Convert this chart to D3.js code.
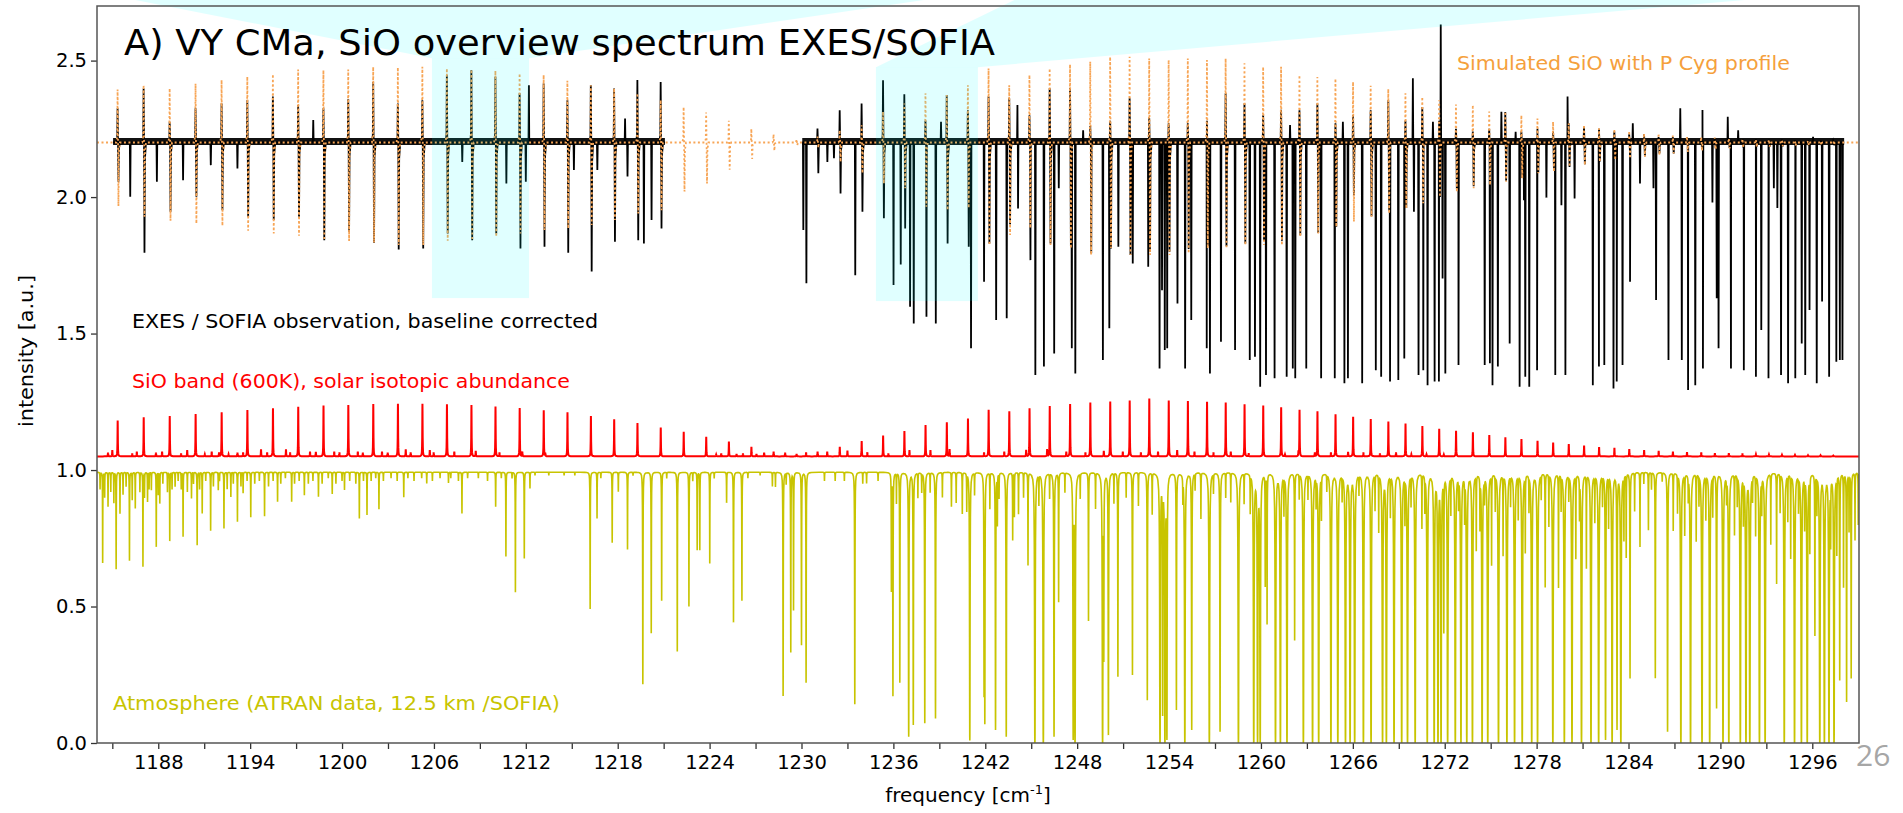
<!DOCTYPE html>
<html><head><meta charset="utf-8">
<script src="https://cdn.jsdelivr.net/npm/d3@7"></script>
<style>
html,body{margin:0;padding:0;background:#fff;}
svg{display:block;font-family:"DejaVu Sans",Verdana,sans-serif;}
</style></head><body>
<svg id="chart" width="1903" height="813"></svg>
<script>
// ---- SiO band lines: [frequency cm-1, model peak intensity] ----
const sioLines = [[1185.35,1.181],[1187.05,1.193],[1188.75,1.198],[1190.44,1.205],[1192.14,1.212],[1193.82,1.220],[1195.49,1.226],[1197.14,1.232],[1198.79,1.236],[1200.41,1.238],[1202.04,1.242],[1203.65,1.243],[1205.25,1.243],[1206.85,1.241],[1208.45,1.238],[1210.02,1.233],[1211.60,1.227],[1213.17,1.219],[1214.72,1.212],[1216.25,1.198],[1217.77,1.186],[1219.29,1.172],[1220.81,1.156],[1222.31,1.140],[1223.78,1.122],[1225.26,1.104],[1226.73,1.085],[1228.18,1.067],[1229.68,1.059],[1231.05,1.067],[1232.50,1.085],[1233.93,1.106],[1235.33,1.126],[1236.72,1.143],[1238.10,1.165],[1239.49,1.175],[1240.87,1.189],[1242.22,1.221],[1243.57,1.215],[1244.89,1.226],[1246.21,1.234],[1247.54,1.242],[1248.86,1.247],[1250.16,1.251],[1251.43,1.255],[1252.71,1.262],[1253.98,1.255],[1255.23,1.253],[1256.48,1.250],[1257.70,1.247],[1258.93,1.241],[1260.15,1.236],[1261.32,1.230],[1262.52,1.220],[1263.69,1.215],[1264.87,1.204],[1266.02,1.195],[1267.17,1.187],[1268.32,1.178],[1269.44,1.170],[1270.54,1.161],[1271.64,1.151],[1272.74,1.144],[1273.84,1.138],[1274.91,1.128],[1275.96,1.120],[1277.01,1.114],[1278.06,1.107],[1279.08,1.101],[1280.10,1.095],[1281.10,1.090],[1282.08,1.084],[1283.08,1.081],[1284.05,1.077],[1285.02,1.073],[1285.97,1.070],[1286.90,1.067],[1287.82,1.066],[1288.75,1.065],[1289.64,1.062],[1290.55,1.062],[1291.44,1.061],[1292.32,1.058],[1293.17,1.057],[1294.02,1.056],[1294.87,1.055],[1295.72,1.054],[1296.54,1.054],[1297.37,1.053]];

// weaker isotopologue / hot-band lines of the model band
const sioMinor = [[1184.72,1.064],[1185.00,1.073],[1186.30,1.061],[1186.60,1.067],[1187.85,1.064],[1188.25,1.067],[1189.49,1.061],[1189.89,1.073],[1191.04,1.058],[1191.49,1.067],[1191.97,1.064],[1192.59,1.058],[1193.17,1.064],[1193.54,1.064],[1194.71,1.076],[1195.11,1.064],[1196.34,1.076],[1196.61,1.064],[1197.91,1.067],[1198.29,1.066],[1199.49,1.067],[1199.83,1.064],[1201.03,1.067],[1201.36,1.064],[1202.61,1.067],[1202.98,1.064],[1204.16,1.076],[1204.48,1.064],[1205.73,1.073],[1205.98,1.064],[1207.33,1.067],[1208.73,1.070],[1210.28,1.064],[1211.77,1.067],[1213.27,1.061],[1224.43,1.057],[1224.76,1.061],[1225.76,1.059],[1226.18,1.061],[1227.06,1.059],[1227.56,1.064],[1228.93,1.064],[1230.30,1.065],[1231.68,1.067],[1233.00,1.071],[1234.30,1.065],[1235.67,1.061],[1237.05,1.073],[1238.42,1.073],[1239.67,1.076],[1241.92,1.064],[1243.24,1.067],[1244.67,1.073],[1246.04,1.076],[1247.29,1.067],[1248.54,1.064],[1249.74,1.070],[1250.98,1.067],[1252.16,1.064],[1253.28,1.067],[1254.53,1.073],[1255.66,1.067],[1256.90,1.064],[1258.03,1.067],[1259.20,1.061],[1261.57,1.057],[1262.45,1.067],[1263.52,1.064],[1264.57,1.064],[1265.69,1.066],[1266.69,1.064],[1267.77,1.061],[1268.82,1.064],[1269.82,1.058],[1270.81,1.057],[1271.94,1.057]];

// ---- simulated SiO with P Cyg profile: [frequency, emission max, absorption min] ----
const simProfile = [[1185.35,2.394,1.967],[1187.05,2.410,1.928],[1188.75,2.398,1.913],[1190.44,2.416,1.903],[1192.14,2.429,1.895],[1193.82,2.441,1.877],[1195.49,2.450,1.867],[1197.14,2.467,1.858],[1198.79,2.465,1.842],[1200.41,2.467,1.839],[1202.04,2.477,1.833],[1203.65,2.475,1.824],[1205.25,2.477,1.824],[1206.85,2.471,1.840],[1208.45,2.467,1.842],[1210.02,2.463,1.855],[1211.60,2.453,1.867],[1213.17,2.447,1.879],[1214.72,2.426,1.885],[1216.25,2.410,1.898],[1217.77,2.398,1.916],[1219.29,2.380,1.940],[1220.81,2.355,1.952],[1222.31,2.330,2.020],[1223.78,2.310,2.050],[1225.26,2.280,2.100],[1226.73,2.250,2.140],[1228.18,2.230,2.170],[1229.68,2.212,2.190],[1231.05,2.222,2.180],[1232.50,2.245,2.129],[1233.93,2.263,2.087],[1235.33,2.313,2.050],[1236.72,2.343,2.032],[1238.10,2.380,1.965],[1239.49,2.374,1.952],[1240.87,2.410,1.960],[1242.22,2.471,1.824],[1243.57,2.410,1.861],[1244.89,2.447,1.886],[1246.21,2.471,1.824],[1247.54,2.486,1.812],[1248.86,2.496,1.788],[1250.16,2.514,1.813],[1251.43,2.514,1.788],[1252.71,2.508,1.788],[1253.98,2.502,1.788],[1255.23,2.508,1.794],[1256.48,2.502,1.812],[1257.70,2.508,1.812],[1258.93,2.490,1.824],[1260.15,2.477,1.824],[1261.32,2.477,1.824],[1262.52,2.447,1.855],[1263.69,2.440,1.867],[1264.87,2.434,1.891],[1266.02,2.422,1.910],[1267.17,2.408,1.928],[1268.32,2.396,1.940],[1269.44,2.380,1.958],[1270.54,2.367,1.977],[1271.64,2.355,2.001],[1272.74,2.339,2.019],[1273.84,2.337,2.032],[1274.91,2.313,2.044],[1275.96,2.313,2.056],[1277.01,2.300,2.068],[1278.06,2.288,2.087],[1279.08,2.276,2.093],[1280.10,2.270,2.111],[1281.10,2.264,2.117],[1282.08,2.252,2.129],[1283.08,2.249,2.136],[1284.05,2.242,2.142],[1285.02,2.233,2.148],[1285.97,2.233,2.154],[1286.90,2.225,2.160],[1287.82,2.222,2.165],[1288.75,2.220,2.170],[1289.64,2.218,2.175],[1290.55,2.215,2.178],[1291.44,2.213,2.180],[1292.32,2.210,2.183],[1293.17,2.210,2.185],[1294.02,2.208,2.187],[1294.87,2.207,2.188],[1295.72,2.206,2.190],[1296.54,2.205,2.190],[1297.37,2.205,2.191]];

// ---- EXES/SOFIA observation ----
const obsSegments = [[1185.05,1221.08],[1230.05,1298.08]];
// SiO features seen in the data: [frequency, emission max, absorption min]
const obsProfile = [[1185.35,2.325,2.056],[1187.05,2.398,1.796],[1188.75,2.276,1.946],[1190.44,2.325,2.001],[1192.14,2.343,1.952],[1193.82,2.355,1.928],[1195.49,2.368,1.916],[1197.14,2.337,1.928],[1198.79,2.325,1.842],[1200.41,2.358,1.873],[1202.04,2.422,1.833],[1203.65,2.343,1.808],[1205.25,2.355,1.812],[1206.85,2.447,1.867],[1208.45,2.465,1.842],[1210.02,2.441,1.867],[1211.60,2.380,1.812],[1213.17,2.416,1.818],[1214.72,2.355,1.796],[1216.25,2.410,1.727],[1217.77,2.398,1.836],[1219.29,2.429,1.842],[1220.81,2.422,1.885],
[1231.05,2.251,2.087],[1232.50,2.318,2.013],[1233.93,2.343,1.946],[1235.33,2.428,1.922],[1236.72,2.377,1.885],[1238.10,2.280,1.790],[1239.49,2.374,1.830],[1240.87,2.318,1.818],[1242.22,2.368,1.830],[1243.57,2.362,1.900],[1244.89,2.300,1.880],[1246.21,2.399,1.830],[1247.54,2.400,1.820],[1248.86,2.260,1.860],[1250.16,2.280,1.812],[1251.43,2.362,1.788],[1252.71,2.290,1.800],[1253.98,2.270,1.800],[1255.23,2.270,1.810],[1256.48,2.280,1.820],[1257.70,2.380,1.820],[1258.93,2.343,1.830],[1260.15,2.300,1.840],[1261.32,2.320,1.840],[1262.52,2.318,1.860],[1263.69,2.343,1.868],[1264.87,2.270,1.891],[1266.02,2.300,2.007],[1267.17,2.318,1.930],[1268.32,2.355,1.950],[1269.44,2.280,1.960],[1270.54,2.330,1.980],[1271.64,2.280,2.000],[1272.74,2.250,2.030],[1273.84,2.240,2.040],[1274.91,2.250,2.050],[1275.96,2.312,2.060],[1277.01,2.240,2.070],[1278.06,2.250,2.090],[1279.08,2.240,2.100],[1280.10,2.270,2.110],[1281.10,2.258,2.120],[1282.08,2.250,2.130],[1283.08,2.240,2.140],[1284.05,2.230,2.150],[1285.02,2.230,2.150],[1285.97,2.220,2.160],[1286.90,2.220,2.160],[1287.82,2.220,2.170],[1288.75,2.215,2.175],[1289.64,2.215,2.178],[1290.55,2.215,2.180],[1291.44,2.212,2.182],[1292.32,2.212,2.185],[1293.17,2.210,2.185],[1294.02,2.210,2.186],[1294.87,2.208,2.188],[1295.72,2.208,2.188],[1296.54,2.207,2.190],[1297.37,2.206,2.190]];
// other narrow features in the data (telluric residuals, spikes): [frequency, intensity]
const obsSpikes = [[1186.17,2.001],[1187.91,2.056],[1189.62,2.062],[1191.43,2.117],[1193.17,2.105],[1198.12,2.282],[1207.85,2.129],[1210.73,2.050],[1212.00,2.056],[1212.20,2.410],[1215.14,2.099],[1216.67,2.099],[1218.48,2.288],[1218.64,2.075],[1219.71,1.830],[1220.21,1.916],
[1230.12,1.879],[1230.32,1.684],[1231.69,2.129],[1232.12,2.142],[1233.51,1.714],[1236.01,1.678],[1236.48,1.753],[1237.09,1.598],[1237.33,1.537],[1238.16,1.562],[1238.77,1.537],[1239.11,2.276],[1241.07,1.446],[1241.92,1.690],[1242.71,1.550],[1243.40,1.556],[1244.10,2.337],[1244.14,1.958],[1244.95,1.769],[1245.27,1.348],[1245.83,1.379],[1246.50,1.427],[1246.80,2.032],[1247.65,1.446],[1247.88,1.354],[1248.39,2.245],[1248.92,1.794],[1249.68,1.403],[1250.10,1.519],[1250.69,1.818],[1251.63,1.757],[1252.64,1.745],[1253.38,1.372],[1253.54,1.659],[1253.72,1.440],[1253.88,1.446],[1254.55,1.610],[1255.05,1.372],[1255.45,1.550],[1256.46,1.446],[1256.67,1.354],[1257.39,1.470],[1258.31,1.440],[1259.27,1.403],[1259.61,1.415],[1259.95,1.305],[1260.33,1.348],[1260.89,1.336],[1261.68,1.342],[1261.90,2.264],[1262.08,1.372],[1262.24,1.336],[1262.96,1.372],
[1263.93,1.336],[1264.82,1.336],[1265.35,2.276],[1265.45,1.318],[1265.68,1.336],[1266.61,1.318],[1267.50,1.366],[1267.85,1.342],[1268.43,1.324],[1268.97,1.330],[1269.36,1.409],[1269.92,2.435],[1269.99,1.946],[1270.29,1.348],[1270.60,1.366],[1270.88,1.311],[1271.23,2.276],[1271.34,1.324],[1271.62,1.324],[1271.74,2.632],[1271.86,1.702],[1272.04,1.354],[1272.90,1.385],[1274.61,1.385],[1274.95,1.391],[1275.12,1.311],[1275.47,1.379],[1275.70,2.313],[1276.24,1.464],[1276.63,2.239],[1276.89,1.305],[1277.17,1.988],[1277.26,1.342],[1277.52,1.305],[1278.03,1.366],[1278.64,1.998],[1279.22,1.348],[1279.62,1.970],[1279.88,1.348],[1280.02,2.368],[1280.48,1.995],[1281.67,1.311],[1282.07,1.379],[1282.42,1.385],[1283.02,1.299],[1283.23,1.324],[1283.61,1.385],[1284.10,1.690],[1284.28,2.270],[1284.75,2.050],[1285.63,2.032],[1285.80,1.623],[1286.61,1.403],[1287.38,2.325],[1287.48,1.403],[1287.89,1.293],[1288.36,1.311],[1288.83,2.319],[1288.86,1.372],[1289.48,1.980],[1289.76,1.629],[1289.88,1.446],[1290.48,2.294],[1290.69,1.372],[1291.16,2.245],[1291.53,1.366],[1292.32,1.342],[1292.67,1.513],[1293.14,1.336],[1293.49,2.032],[1293.72,1.960],[1293.96,1.348],[1294.42,1.318],[1294.89,1.336],[1295.31,1.464],[1295.54,1.348],[1295.82,1.586],[1296.05,2.221],[1296.29,1.318],[1296.64,1.617],[1297.10,1.342],[1297.57,1.397],[1297.80,1.403],[1297.97,1.403]];

// ---- ATRAN atmospheric transmission, line minima: [frequency, transmission] ----
const atmStrong = [[1184.37,0.660],[1184.72,0.866],[1185.25,0.637],[1185.50,0.841],[1186.12,0.668],[1186.50,0.860],[1187.00,0.646],[1187.30,0.884],[1187.55,0.927],[1187.87,0.719],[1188.10,0.878],[1188.75,0.740],[1189.10,0.939],[1189.62,0.756],[1190.17,0.896],[1190.54,0.725],[1190.87,0.841],[1191.42,0.778],[1191.92,0.927],[1192.29,0.786],[1192.74,0.902],[1193.17,0.811],[1193.54,0.915],[1194.04,0.827],[1194.94,0.831],[1195.79,0.884],[1196.71,0.884],[1197.54,0.908],[1198.46,0.902],[1199.36,0.912],[1200.16,0.927],[1201.13,0.823],[1201.63,0.835],[1202.41,0.856],[1204.03,0.900],[1205.53,0.951],[1206.95,0.953],[1207.83,0.841],[1210.03,0.866],[1210.70,0.683],[1211.32,0.552],[1211.90,0.676],[1212.27,0.933],[1216.20,0.491],[1216.65,0.823],[1217.64,0.734],[1218.04,0.921],[1218.64,0.709],[1219.64,0.215],[1220.19,0.402],[1220.87,0.521],[1221.89,0.335],
[1222.65,0.500],[1223.19,0.707],[1223.36,0.707],[1224.01,0.658],[1225.11,0.880],[1225.56,0.442],[1226.11,0.521],[1228.30,0.939],[1228.80,0.172],[1229.30,0.332],[1229.48,0.487],[1230.00,0.359],[1230.30,0.221],[1233.48,0.142],[1234.25,0.951],[1235.87,0.560],[1235.97,0.172],[1236.42,0.221],[1237.00,0.023],[1237.30,0.066],[1237.85,0.921],[1238.05,0.072],[1238.75,0.090],[1239.79,0.866],[1240.79,0.853],[1240.99,0.009],[1241.92,0.179],[1241.97,0.072],[1242.67,0.048],[1242.79,0.805],[1243.37,0.023],[1243.79,0.744],[1244.17,0.839],[1244.79,0.652],[1245.24,0.0],[1245.79,0.0],[1246.49,0.023],[1246.79,0.518],[1247.74,0.011],[1247.86,0.0],[1248.74,0.448],[1249.66,0.0],[1249.74,0.322],[1250.04,0.029],[1250.66,0.243],[1251.61,0.249],[1252.58,0.157],[1253.41,0.0],[1253.58,0.103],[1253.73,0.0],[1253.86,0.011],[1254.48,0.121],[1255.03,0.0],[1255.48,0.048],[1256.08,0.823],[1256.63,0.0],[1257.33,0.041],[1258.03,0.884],[1258.53,0.0],[1259.53,0.0],[1259.78,0.0],[1259.95,0.0],[1260.28,0.579],[1260.40,0.438],[1260.95,0.0],
[1261.27,0.0],[1261.70,0.0],[1262.20,0.377],[1262.77,0.0],[1263.07,0.902],[1263.37,0.0],[1263.77,0.0],[1263.95,0.829],[1264.57,0.0],[1265.02,0.0],[1265.52,0.0],[1265.82,0.0],[1266.12,0.0],[1266.69,0.0],[1267.19,0.0],[1267.69,0.780],[1267.94,0.0],[1268.19,0.0],[1268.69,0.0],[1269.19,0.0],[1269.57,0.0],[1270.07,0.0],[1270.51,0.792],[1270.86,0.0],[1271.31,0.0],[1271.56,0.0],[1271.76,0.0],[1271.94,0.414],[1272.19,0.0],[1272.69,0.0],[1273.06,0.0],[1273.44,0.0],[1273.81,0.0],[1274.06,0.713],[1274.44,0.0],[1274.81,0.0],[1275.06,0.658],[1275.51,0.0],[1275.81,0.695],[1276.06,0.0],[1276.56,0.0],[1277.06,0.0],[1277.26,0.707],[1277.68,0.0],[1278.06,0.0],[1278.56,0.573],[1279.06,0.0],[1279.43,0.573],[1279.81,0.0],[1280.31,0.0],[1280.56,0.683],[1280.93,0.0],[1281.25,0.646],[1281.55,0.0],[1282.05,0.0],[1282.50,0.011],[1282.93,0.0],[1283.25,0.048],[1283.50,0.0],[1283.85,0.683],[1284.10,0.237],[1284.75,0.719],[1285.30,0.780],[1285.75,0.237],[1286.55,0.041],[1286.92,0.780],[1287.42,0.0],[1287.67,0.768],[1288.05,0.0],[1288.42,0.744],[1288.80,0.0],[1289.05,0.829],[1289.30,0.0],[1289.75,0.127],[1290.17,0.0],[1290.55,0.0],[1290.92,0.768],[1291.30,0.0],[1291.67,0.0],[1291.92,0.0],[1292.30,0.768],[1292.55,0.0],[1292.92,0.0],[1293.29,0.731],[1293.67,0.585],[1294.17,0.0],[1294.59,0.683],[1294.84,0.0],[1295.29,0.0],[1295.67,0.0],[1295.84,0.707],[1296.17,0.396],[1296.49,0.0],[1296.79,0.0],[1297.09,0.0],[1297.42,0.0],[1297.79,0.231],[1298.04,0.573],[1298.24,0.151],[1298.54,0.237],[1298.79,0.744]];
const atmWeak = [[1184.2,0.93],[1184.5,0.90],[1184.9,0.92],[1185.1,0.88],[1185.7,0.91],[1185.9,0.94],[1186.3,0.89],[1186.8,0.92],[1187.1,0.90],[1187.4,0.93],[1188.0,0.91],[1188.3,0.95],[1188.6,0.92],[1188.9,0.93],[1189.3,0.96],[1189.5,0.93],[1189.9,0.92],[1190.3,0.95],[1190.7,0.93],[1191.1,0.96],[1191.6,0.94],[1192.0,0.96],[1192.5,0.93],[1192.9,0.95],[1193.4,0.94],[1193.8,0.96],[1194.3,0.95],[1194.6,0.96],[1195.2,0.94],[1195.5,0.96],[1196.0,0.95],[1196.3,0.97],[1196.9,0.95],[1197.2,0.96],[1197.8,0.95],[1198.1,0.96],[1198.7,0.95],[1199.1,0.97],[1199.6,0.95],[1200.0,0.96],[1200.5,0.96],[1200.9,0.95],[1201.4,0.96],[1201.9,0.96],[1202.2,0.97],[1202.7,0.96],[1203.2,0.97],[1203.6,0.96],[1204.3,0.97],[1204.7,0.96],[1205.2,0.97],[1205.9,0.96],[1206.4,0.97],[1207.1,0.97],[1207.6,0.96],[1208.2,0.97],[1208.9,0.97],[1209.5,0.96],[1210.4,0.97],[1211.1,0.97],[1212.6,0.98],[1213.5,0.98],[1214.5,0.98],[1215.2,0.98],[1216.9,0.97],[1219.0,0.98],[1221.2,0.97],[1222.9,0.96],[1224.3,0.97],[1226.5,0.97],[1227.3,0.98],[1228.1,0.94],[1229.0,0.95],[1231.5,0.96],[1232.2,0.96],[1232.8,0.96],[1234.0,0.95],[1235.0,0.96],
[1236.2,0.88],[1237.6,0.90],[1238.4,0.92],[1239.2,0.90],[1240.1,0.88],[1240.5,0.84],[1241.3,0.91],[1242.3,0.86],[1242.9,0.90],[1243.9,0.83],[1244.5,0.90],[1245.5,0.88],[1246.2,0.90],[1247.2,0.92],[1248.2,0.90],[1249.2,0.86],[1250.4,0.88],[1251.2,0.90],[1252.0,0.87],[1252.9,0.84],[1254.9,0.90],[1255.7,0.93],[1256.9,0.92],[1257.7,0.90],[1258.9,0.88],[1259.3,0.85],
[1261.5,0.85],[1262.5,0.90],[1263.6,0.88],[1264.3,0.93],[1265.3,0.90],[1266.4,0.92],[1267.45,0.86],[1268.45,0.84],[1269.4,0.82],[1269.8,0.88],[1270.7,0.86],[1272.4,0.85],[1272.9,0.88],[1273.3,0.83],[1274.3,0.80],[1274.6,0.90],[1275.3,0.86],[1276.3,0.88],[1276.8,0.83],[1277.5,0.86],[1278.3,0.90],[1278.8,0.80],[1279.6,0.86],[1280.1,0.90],[1280.8,0.84],[1281.8,0.82],[1282.3,0.88],[1282.7,0.80],[1283.7,0.75],[1284.4,0.85],[1285.0,0.95],[1285.5,0.93],[1286.2,0.96],[1287.2,0.85],[1287.9,0.90],[1288.6,0.88],[1289.5,0.84],[1290.4,0.90],[1291.1,0.88],[1291.5,0.82],[1292.1,0.90],[1292.7,0.86],[1293.9,0.85],[1294.4,0.82],[1295.1,0.86],[1295.5,0.80],[1296.3,0.85],[1297.2,0.75],[1297.6,0.70],[1298.4,0.78],[1299.0,0.80]];

// continuum levels of the three stacked spectra
const levels = {obs: 2.2, band: 1.05, atm: 0.992};

// highlighted windows and the call-out wedges that lead up from them
const highlightFreq  = [[1205.87,1212.21],[1234.86,1241.52]];
const highlightLevel = [[1.630,2.509],[1.619,2.476]];
const calloutTop     = [[1186.5,1238.0],[1243.9,1291.6]];
const calloutLevel   = 2.722;

// axis ticks
const xTicks = d3.range(1185, 1297, 3);
const yTicks = [0, 0.5, 1.0, 1.5, 2.0, 2.5];

// ---------------------------------------------------------------
const svg = d3.select("#chart");
const X0 = 1184, X1 = 1299.05;
const x = d3.scaleLinear().domain([X0, X1]).range([97, 1859]);
const y = d3.scaleLinear().domain([0, 2.70]).range([743, 6]);
const line = d3.line().x(d => x(d[0])).y(d => y(d[1]));

svg.append("defs").append("clipPath").attr("id", "plotArea")
  .append("rect").attr("x", 97).attr("y", 6).attr("width", 1762).attr("height", 737);
const plot = svg.append("g").attr("clip-path", "url(#plotArea)");

// sample positions clustered around line centres
const OFFS = [0, 0.004, 0.009, 0.016, 0.026, 0.04, 0.06, 0.09, 0.14, 0.22, 0.35];
function samplePositions(centres, lo, hi) {
  const s = new Set([lo, hi]);
  centres.forEach(f => OFFS.forEach(o => {
    [f - o, f + o].forEach(v => { if (v >= lo && v <= hi) s.add(+v.toFixed(4)); });
  }));
  return Array.from(s).sort((a, b) => a - b);
}

// atmosphere: Lorentzian optical-depth lines
{
  const g2 = 0.008 * 0.008, base = levels.atm;
  const all = atmStrong.concat(atmWeak);
  const taus = all.map(([f, v]) => [f, Math.log(base / Math.max(v, 0.0004))]);
  const pts = samplePositions(all.map(d => d[0]), X0, X1).map(f => {
    let t = 0;
    for (const [c, tau] of taus) { const d = f - c; if (d > -2 && d < 2) t += tau * g2 / (d * d + g2); }
    return [f, base * Math.exp(-t)];
  });
  plot.append("path").attr("d", line(pts)).attr("fill", "none")
    .attr("stroke", "#c8c400").attr("stroke-width", 1.6);
}

// SiO model band (emission spikes)
{
  const g2 = 0.012 * 0.012, base = levels.band;
  const all = sioLines.concat(sioMinor);
  const pts = samplePositions(all.map(d => d[0]), X0, X1).map(f => {
    let a = 0;
    for (const [c, p] of all) { const d = f - c; if (d > -2 && d < 2) a += (p - base) * g2 / (d * d + g2); }
    return [f, base + a];
  });
  plot.append("path").attr("d", line(pts)).attr("fill", "none")
    .attr("stroke", "#ff0000").attr("stroke-width", 2);
}

// P Cyg shape: emission peak at the line, absorption just blueward
function pcyg([f, top, bot], base) {
  return [[f - 0.09, base], [f - 0.03, base + 0.12 * (top - base)], [f - 0.006, top],
          [f + 0.02, base + 0.1 * (top - base)], [f + 0.05, bot],
          [f + 0.08, base + 0.15 * (bot - base)], [f + 0.15, base]];
}
function spike([f, v], base) { return [[f - 0.025, base], [f, v], [f + 0.025, base]]; }

// observation
obsSegments.forEach(([lo, hi]) => {
  plot.append("path").attr("d", line([[lo, levels.obs + 0.004], [hi, levels.obs + 0.004]]))
    .attr("stroke", "#111").attr("stroke-width", 7).attr("fill", "none");
  let pts = [[lo, levels.obs], [hi, levels.obs]];
  obsProfile.filter(d => d[0] > lo && d[0] < hi).forEach(d => pts = pts.concat(pcyg(d, levels.obs)));
  obsSpikes.filter(d => d[0] > lo && d[0] < hi).forEach(d => pts = pts.concat(spike(d, levels.obs)));
  pts = pts.filter(d => d[0] >= lo && d[0] <= hi).sort((a, b) => a[0] - b[0]);
  plot.append("path").attr("d", line(pts)).attr("fill", "none")
    .attr("stroke", "#000").attr("stroke-width", 1.8).attr("stroke-linejoin", "miter");
});

// simulated P Cyg spectrum (dotted)
{
  let pts = [[X0, levels.obs], [X1, levels.obs]];
  simProfile.forEach(d => pts = pts.concat(pcyg(d, levels.obs)));
  pts.sort((a, b) => a[0] - b[0]);
  plot.append("path").attr("d", line(pts)).attr("fill", "none")
    .attr("stroke", "#f7a556").attr("stroke-width", 1.8).attr("stroke-dasharray", "2,2.5");
}

// highlighted windows and call-out wedges
const hl = svg.append("g").attr("fill", "rgb(0,255,255)").attr("fill-opacity", 0.12);
highlightFreq.forEach(([f0, f1], i) => {
  const [v0, v1] = highlightLevel[i];
  const [t0, t1] = calloutTop[i];
  hl.append("rect").attr("x", x(f0)).attr("y", y(v1))
    .attr("width", x(f1) - x(f0)).attr("height", y(v0) - y(v1));
  hl.append("polygon").attr("points",
    [[x(t0), y(calloutLevel)], [x(t1), y(calloutLevel)], [x(f1), y(v1)], [x(f0), y(v1)]]
      .map(p => p.join(",")).join(" "));
});

// axes
const xAxis = d3.axisBottom(x).tickValues(xTicks).tickSize(6).tickPadding(6)
  .tickFormat(d => ((d - 1188) % 6 === 0 ? d3.format("d")(d) : ""));
const gx = svg.append("g").attr("transform", "translate(0,743)").call(xAxis);
const yAxis = d3.axisLeft(y).tickValues(yTicks).tickSize(6).tickPadding(4).tickFormat(d3.format(".1f"));
const gy = svg.append("g").attr("transform", "translate(97,0)").call(yAxis);
[gx, gy].forEach(g => {
  g.select(".domain").remove();
  g.selectAll(".tick line").attr("stroke", "#333").attr("stroke-width", 1.3);
  g.selectAll(".tick text").attr("fill", "#000").style("font-size", "19.5px")
    .style("font-family", "'DejaVu Sans',Verdana,sans-serif");
});
svg.append("rect").attr("x", 97).attr("y", 6).attr("width", 1762).attr("height", 737)
  .attr("fill", "none").attr("stroke", "#555").attr("stroke-width", 1.5);

// text labels (widths fitted to the slide layout)
function label(txt, x0, y0, size, color, width) {
  return svg.append("text").attr("x", x0).attr("y", y0).style("font-size", size + "px")
    .attr("fill", color).attr("textLength", width).attr("lengthAdjust", "spacingAndGlyphs").text(txt);
}
label("A) VY CMa, SiO overview spectrum EXES/SOFIA", 124, 55, 35, "#000", 871);
label("Simulated SiO with P Cyg profile", 1457, 70, 19.5, "#f5a03c", 333);
label("EXES / SOFIA observation, baseline corrected", 132, 328, 19.5, "#000", 466);
label("SiO band (600K), solar isotopic abundance", 132, 388, 19.5, "#ff0000", 438);
label("Atmosphere (ATRAN data, 12.5 km /SOFIA)", 113, 710, 20, "#c8c400", 447);
svg.append("text").attr("transform", "translate(33,351) rotate(-90)").attr("text-anchor", "middle")
  .style("font-size", "20px").attr("fill", "#000")
  .attr("textLength", 152).attr("lengthAdjust", "spacingAndGlyphs").text("intensity [a.u.]");
const xt = svg.append("text").attr("x", 968).attr("y", 802).attr("text-anchor", "middle")
  .style("font-size", "20px").attr("fill", "#000");
xt.append("tspan").text("frequency [cm");
xt.append("tspan").attr("dy", -8).style("font-size", "13px").text("-1");
xt.append("tspan").attr("dy", 8).text("]");
svg.append("text").attr("x", 1856).attr("y", 766).style("font-size", "30px")
  .style("font-family", "'Open Sans',sans-serif").attr("fill", "#a6a6a6").text("26");
</script>
</body></html>
